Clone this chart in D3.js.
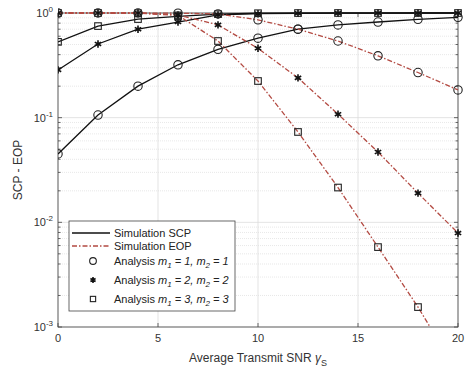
<html><head>
<script src="https://d3js.org/d3.v7.min.js"></script>
<style>
  body { margin: 0; background: #fff; }
  text { font-family: "Liberation Sans", Arial, sans-serif; }
</style>
</head>
<body>
<svg id="chart" width="470" height="376"></svg>
<script>
// SNR points (dB)
const snr = [0, 2, 4, 6, 8, 10, 12, 14, 16, 18, 20];

// secrecy connection probability, one array per fading parameter
const scpM1 = [0.045, 0.106, 0.2, 0.32, 0.45, 0.575, 0.70, 0.77, 0.82, 0.87, 0.91];
const scpM2 = [0.286, 0.506, 0.70, 0.82, 0.96, 0.985, 0.995, 0.998, 0.999, 1, 1];
const scpM3 = [0.53, 0.75, 0.875, 0.93, 0.975, 0.995, 0.999, 1, 1, 1, 1];

// eavesdropping outage probability
const eopM1 = [1, 1, 1, 0.995, 0.98, 0.86, 0.70, 0.54, 0.39, 0.27, 0.184];
const eopM2 = [1, 1, 1, 0.96, 0.77, 0.46, 0.24, 0.108, 0.047, 0.019, 0.0079];
const eopM3 = [1, 1, 0.995, 0.95, 0.54, 0.224, 0.073, 0.0215, 0.0058, 0.00155, 0.00036];

const xTicks = [0, 5, 10, 15, 20];
const yDecades = [0, -1, -2, -3];

const svg = d3.select("#chart");
const pLeft = 58, pRight = 458, pTop = 13, pBottom = 327;

const x = d3.scaleLinear().domain([0, 20]).range([pLeft, pRight]);
const y = d3.scaleLog().domain([1e-3, 1]).range([pBottom, pTop]);

// clip
svg.append("clipPath").attr("id", "clip")
    .append("rect").attr("x", pLeft).attr("y", pTop - 6)
    .attr("width", pRight - pLeft + 6).attr("height", pBottom - pTop + 6);

// grid
const grid = svg.append("g");
const minor = [];
for (let e = -3; e < 0; e++) {
    for (let k = 2; k <= 9; k++) minor.push(k * Math.pow(10, e));
}
grid.selectAll(".minor").data(minor).join("line")
    .attr("x1", pLeft).attr("x2", pRight)
    .attr("y1", d => y(d)).attr("y2", d => y(d))
    .attr("stroke", "#e2e2e2").attr("stroke-width", 0.8).attr("stroke-dasharray", "1,1");
grid.selectAll(".majY").data(yDecades).join("line")
    .attr("x1", pLeft).attr("x2", pRight)
    .attr("y1", d => y(Math.pow(10, d))).attr("y2", d => y(Math.pow(10, d)))
    .attr("stroke", "#dcdcdc").attr("stroke-width", 0.8);
grid.selectAll(".majX").data(xTicks).join("line")
    .attr("x1", d => x(d)).attr("x2", d => x(d))
    .attr("y1", pTop).attr("y2", pBottom)
    .attr("stroke", "#dcdcdc").attr("stroke-width", 0.8);

// axes box + ticks
const ax = svg.append("g").attr("stroke", "#444").attr("stroke-width", 0.8);
ax.append("rect").attr("x", pLeft).attr("y", pTop)
    .attr("width", pRight - pLeft).attr("height", pBottom - pTop).attr("fill", "none");
xTicks.forEach(t => {
    ax.append("line").attr("x1", x(t)).attr("x2", x(t)).attr("y1", pBottom).attr("y2", pBottom - 4);
    ax.append("line").attr("x1", x(t)).attr("x2", x(t)).attr("y1", pTop).attr("y2", pTop + 4);
});
minor.forEach(v => {
    ax.append("line").attr("x1", pLeft).attr("x2", pLeft + 2.5).attr("y1", y(v)).attr("y2", y(v));
    ax.append("line").attr("x1", pRight).attr("x2", pRight - 2.5).attr("y1", y(v)).attr("y2", y(v));
});
yDecades.forEach(d => {
    ax.append("line").attr("x1", pLeft).attr("x2", pLeft + 4).attr("y1", y(Math.pow(10, d))).attr("y2", y(Math.pow(10, d)));
    ax.append("line").attr("x1", pRight).attr("x2", pRight - 4).attr("y1", y(Math.pow(10, d))).attr("y2", y(Math.pow(10, d)));
});

// tick labels
svg.selectAll(".xl").data(xTicks).join("text")
    .attr("x", d => x(d)).attr("y", pBottom + 15)
    .attr("text-anchor", "middle").attr("font-size", 11).attr("fill", "#333")
    .text(d => d);
const yl = svg.selectAll(".yl").data(yDecades).join("text")
    .attr("x", 53).attr("y", d => y(Math.pow(10, d)) + 4)
    .attr("text-anchor", "end").attr("font-size", 11).attr("fill", "#333");
yl.append("tspan").text("10");
yl.append("tspan").attr("dy", -5).attr("font-size", 8).text(d => d);

// axis titles
svg.append("text").attr("x", (pLeft + pRight) / 2).attr("y", 362)
    .attr("text-anchor", "middle").attr("font-size", 12).attr("fill", "#333")
    .call(t => {
        t.append("tspan").text("Average Transmit SNR ");
        t.append("tspan").attr("font-style", "italic").text("γ");
        t.append("tspan").attr("dy", 4).attr("font-size", 9).text("S");
    });
svg.append("text")
    .attr("transform", `translate(22,${(pTop + pBottom) / 2}) rotate(-90)`)
    .attr("text-anchor", "middle").attr("font-size", 12).attr("fill", "#333")
    .text("SCP - EOP");

// curves
const plot = svg.append("g").attr("clip-path", "url(#clip)");
const line = d3.line().x((d, i) => x(snr[i])).y(d => y(d));
const series = [
    { v: scpM1, m: "circle", eop: false },
    { v: scpM2, m: "star", eop: false },
    { v: scpM3, m: "square", eop: false },
    { v: eopM1, m: "circle", eop: true },
    { v: eopM2, m: "star", eop: true },
    { v: eopM3, m: "square", eop: true }
];

series.forEach(s => {
    plot.append("path").datum(s.v).attr("d", line).attr("fill", "none")
        .attr("stroke", s.eop ? "#b34a42" : "#111")
        .attr("stroke-width", 1.3)
        .attr("stroke-dasharray", s.eop ? "5,2,1.5,2" : null);
});

function marker(g, type, cx, cy, k = 1) {
    if (type === "circle") {
        g.append("circle").attr("cx", cx).attr("cy", cy).attr("r", 4.2 * k)
            .attr("fill", "none").attr("stroke", "#222").attr("stroke-width", 1.1);
    } else if (type === "square") {
        g.append("rect").attr("x", cx - 3.3 * k).attr("y", cy - 3.3 * k)
            .attr("width", 6.6 * k).attr("height", 6.6 * k)
            .attr("fill", "none").attr("stroke", "#222").attr("stroke-width", 1.1);
    } else {
        g.append("path").attr("d", d3.symbol(d3.symbolAsterisk, 38 * k * k)())
            .attr("transform", `translate(${cx},${cy})`)
            .attr("fill", "none").attr("stroke", "#111").attr("stroke-width", 1.6);
    }
}

series.forEach(s => {
    s.v.forEach((d, i) => {
        if (d >= 1e-3) marker(plot, s.m, x(snr[i]), y(d));
    });
});

// legend
const lg = svg.append("g").attr("transform", "translate(69,221)");
lg.append("rect").attr("width", 166).attr("height", 90)
    .attr("fill", "#fff").attr("stroke", "#444").attr("stroke-width", 0.8);
const entries = [
    { label: "Simulation SCP", kind: "scp" },
    { label: "Simulation EOP", kind: "eop" },
    { label: "Analysis", kind: "circle", m: 1 },
    { label: "Analysis", kind: "star", m: 2 },
    { label: "Analysis", kind: "square", m: 3 }
];
const rowY = [12, 25, 40, 59, 78];
entries.forEach((e, i) => {
    const yy = rowY[i];
    if (e.kind === "scp" || e.kind === "eop") {
        lg.append("line").attr("x1", 3).attr("x2", 41).attr("y1", yy).attr("y2", yy)
            .attr("stroke", e.kind === "eop" ? "#b34a42" : "#111").attr("stroke-width", 1.3)
            .attr("stroke-dasharray", e.kind === "eop" ? "5,2,1.5,2" : null);
    } else {
        marker(lg, e.kind, 24, yy, 0.8);
    }
    const t = lg.append("text").attr("x", 45).attr("y", yy + 4)
        .attr("font-size", 11).attr("fill", "#222");
    t.append("tspan").text(e.label);
    if (e.m) {
        t.append("tspan").text(" ");
        t.append("tspan").attr("font-style", "italic").text("m");
        t.append("tspan").attr("font-style", "italic").attr("font-size", 8).attr("dy", 3).text("1");
        t.append("tspan").attr("font-style", "italic").attr("dy", -3).text(` = ${e.m}, m`);
        t.append("tspan").attr("font-style", "italic").attr("font-size", 8).attr("dy", 3).text("2");
        t.append("tspan").attr("font-style", "italic").attr("dy", -3).text(` = ${e.m}`);
    }
});
</script>
</body>
</html>
